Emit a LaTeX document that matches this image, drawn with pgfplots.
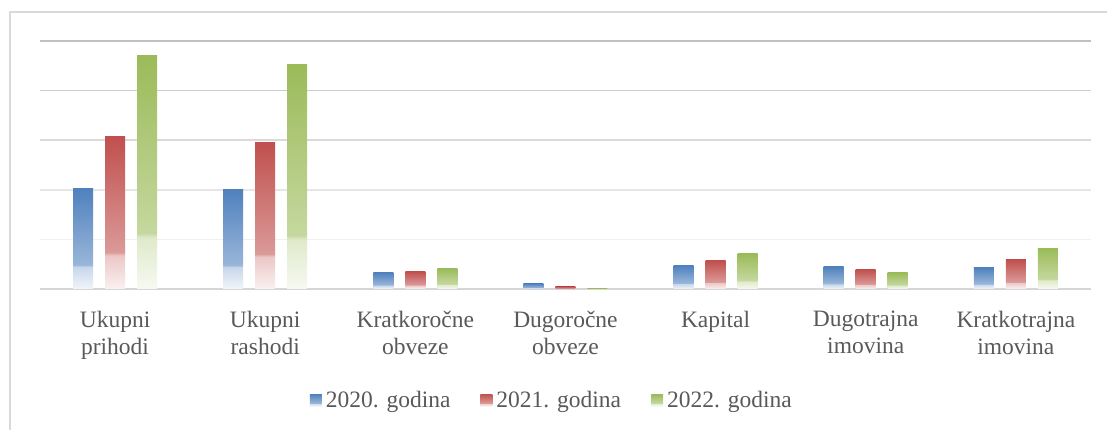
\documentclass[border=0pt]{standalone}
\usepackage{pgfplots}
\pgfplotsset{compat=1.18}
\usepackage{fontspec}
\setmainfont{Liberation Serif}
\definecolor{cb}{HTML}{4F81BD}
\definecolor{cr}{HTML}{C0504D}
\definecolor{cg}{HTML}{9BBB59}
\definecolor{txt}{HTML}{595959}
\colorlet{cbA}{cb!8!white}\colorlet{cbB}{cb!32!white}\colorlet{cbC}{cb!58!white}
\colorlet{crA}{cr!8!white}\colorlet{crB}{cr!32!white}\colorlet{crC}{cr!58!white}
\colorlet{cgA}{cg!8!white}\colorlet{cgB}{cg!32!white}\colorlet{cgC}{cg!58!white}
\pgfdeclareverticalshading{shb}{100bp}{color(0bp)=(cbA); color(25bp)=(cbA); color(36bp)=(cbB); color(37bp)=(cbC); color(75bp)=(cb); color(100bp)=(cb)}
\pgfdeclareverticalshading{shr}{100bp}{color(0bp)=(crA); color(25bp)=(crA); color(36bp)=(crB); color(37bp)=(crC); color(75bp)=(cr); color(100bp)=(cr)}
\pgfdeclareverticalshading{shg}{100bp}{color(0bp)=(cgA); color(25bp)=(cgA); color(36bp)=(cgB); color(37bp)=(cgC); color(75bp)=(cg); color(100bp)=(cg)}
\pgfplotsset{
  bB/.style={draw=none, shade, shading=shb, bar shift=-32bp, forget plot},
  bR/.style={draw=none, shade, shading=shr, bar shift=0bp, forget plot},
  bG/.style={draw=none, shade, shading=shg, bar shift=32bp, forget plot},
}
\begin{document}
\begin{tikzpicture}
\useasboundingbox (0,0) rectangle (1107bp,430bp);
\draw[color={rgb,255:red,217;green,217;blue,217}, line width=1.5bp] (10bp,0) -- (10bp,418bp) -- (1107bp,418bp);
\begin{axis}[
  at={(40bp,141bp)}, anchor=south west,
  scale only axis, width=1051bp, height=248bp,
  xmin=-0.5, xmax=6.5, ymin=0, ymax=5,
  ybar=12bp, bar width=20bp,
  axis line style={draw=none},
  ytick=\empty,
  xtick={0,1,2,3,4,5,6},
  xtick style={draw=none},
  xticklabels={{Ukupni\\prihodi},{Ukupni\\rashodi},{Kratkoročne\\obveze},{Dugoročne\\obveze},{Kapital},{Dugotrajna\\imovina},{Kratkotrajna\\imovina}},
  xticklabel style={align=center, font=\fontsize{23.5bp}{27bp}\selectfont, text=txt, yshift=-14bp},
  legend style={draw=none, fill=none, at={(0.487,-0.4476)}, anchor=center,
    font=\fontsize{23.5bp}{27bp}\selectfont, text=txt,
    /tikz/every even column/.append style={column sep=28bp},
    /tikz/every odd column/.append style={column sep=2bp}},
  legend columns=3,
  clip=false,
]
\draw[color={rgb,255:red,240;green,240;blue,240}, line width=1.5bp] (axis cs:-0.5,1) -- (axis cs:6.5,1);
\draw[color={rgb,255:red,230;green,230;blue,230}, line width=1.5bp] (axis cs:-0.5,2) -- (axis cs:6.5,2);
\draw[color={rgb,255:red,218;green,218;blue,218}, line width=1.5bp] (axis cs:-0.5,3) -- (axis cs:6.5,3);
\draw[color={rgb,255:red,204;green,204;blue,204}, line width=1.5bp] (axis cs:-0.5,4) -- (axis cs:6.5,4);
\draw[color={rgb,255:red,192;green,192;blue,192}, line width=1.5bp] (axis cs:-0.5,5) -- (axis cs:6.5,5);
\draw[color={rgb,255:red,214;green,214;blue,214}, line width=1.5bp] (axis cs:-0.5,0) -- (axis cs:6.5,0);
% 2020. godina
\addplot[bB] coordinates {(0,2.03)};
\addplot[bB] coordinates {(1,2.01)};
\addplot[bB] coordinates {(2,0.33)};
\addplot[bB] coordinates {(3,0.11)};
\addplot[bB] coordinates {(4,0.47)};
\addplot[bB] coordinates {(5,0.45)};
\addplot[bB] coordinates {(6,0.43)};
% 2021. godina
\addplot[bR] coordinates {(0,3.08)};
\addplot[bR] coordinates {(1,2.96)};
\addplot[bR] coordinates {(2,0.35)};
\addplot[bR] coordinates {(3,0.05)};
\addplot[bR] coordinates {(4,0.57)};
\addplot[bR] coordinates {(5,0.39)};
\addplot[bR] coordinates {(6,0.59)};
% 2022. godina
\addplot[bG] coordinates {(0,4.71)};
\addplot[bG] coordinates {(1,4.53)};
\addplot[bG] coordinates {(2,0.41)};
\addplot[bG] coordinates {(3,0.015)};
\addplot[bG] coordinates {(4,0.71)};
\addplot[bG] coordinates {(5,0.33)};
\addplot[bG] coordinates {(6,0.81)};
\addlegendimage{draw=none, legend image code/.code={\shade[draw=none, shading=shb] (0bp,-6bp) rectangle (12bp,6bp);}}
\addlegendentry{2020. godina}
\addlegendimage{draw=none, legend image code/.code={\shade[draw=none, shading=shr] (0bp,-6bp) rectangle (12bp,6bp);}}
\addlegendentry{2021. godina}
\addlegendimage{draw=none, legend image code/.code={\shade[draw=none, shading=shg] (0bp,-6bp) rectangle (12bp,6bp);}}
\addlegendentry{2022. godina}
\end{axis}
\end{tikzpicture}
\end{document}
